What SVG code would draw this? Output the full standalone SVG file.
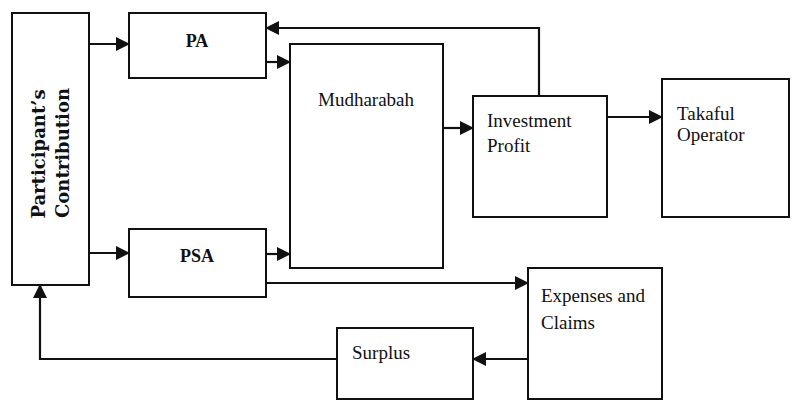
<svg xmlns="http://www.w3.org/2000/svg" width="792" height="409" viewBox="0 0 792 409">
<style>
.box{fill:#fff;stroke:#111;stroke-width:2}
.ln{fill:none;stroke:#111;stroke-width:2.2}
.t{font-family:"Liberation Serif","Times New Roman",serif;font-size:19px;fill:#111}
.b{font-weight:bold;font-size:18px}
.p{font-family:"DejaVu Serif",serif;font-weight:bold;font-size:18px;fill:#111}
</style>
<defs>
<marker id="ah" markerUnits="userSpaceOnUse" markerWidth="14" markerHeight="14" refX="13" refY="7" orient="auto">
<path d="M0,0 L14,7 L0,14 z" fill="#111"/>
</marker>
</defs>
<rect width="792" height="409" fill="#fff"/>
<g id="participant">
<rect class="box" x="12" y="13" width="77" height="272"/>
<text class="p" transform="translate(45,154) rotate(-90)" text-anchor="middle">Participant’s</text>
<text class="p" transform="translate(69,153) rotate(-90)" text-anchor="middle">Contribution</text>
</g>
<g id="pa">
<rect class="box" x="129" y="13" width="137" height="65"/>
<text class="t b" x="197" y="47" text-anchor="middle">PA</text>
</g>
<g id="psa">
<rect class="box" x="129" y="229" width="137" height="68"/>
<text class="t b" x="197" y="262" text-anchor="middle">PSA</text>
</g>
<g id="mudharabah">
<rect class="box" x="290" y="44" width="153" height="224"/>
<text class="t" x="366" y="106" text-anchor="middle">Mudharabah</text>
</g>
<g id="investment">
<rect class="box" x="473" y="96" width="134" height="121"/>
<text class="t" x="487" y="127">Investment</text>
<text class="t" x="487" y="152">Profit</text>
</g>
<g id="takaful">
<rect class="box" x="662" y="79" width="127" height="138"/>
<text class="t" x="677" y="120">Takaful</text>
<text class="t" x="677" y="141">Operator</text>
</g>
<g id="expenses">
<rect class="box" x="528" y="268" width="134" height="131"/>
<text class="t" x="541" y="302">Expenses and</text>
<text class="t" x="541" y="329">Claims</text>
</g>
<g id="surplus">
<rect class="box" x="337" y="328" width="136" height="71"/>
<text class="t" x="352" y="359">Surplus</text>
</g>
<g id="connectors">
<path class="ln" d="M89,44 H129" marker-end="url(#ah)"/>
<path class="ln" d="M89,253 H129" marker-end="url(#ah)"/>
<path class="ln" d="M266,62 H290" marker-end="url(#ah)"/>
<path class="ln" d="M266,254 H290" marker-end="url(#ah)"/>
<path class="ln" d="M443,128 H473" marker-end="url(#ah)"/>
<path class="ln" d="M539,96 V28 H266" marker-end="url(#ah)"/>
<path class="ln" d="M607,117 H662" marker-end="url(#ah)"/>
<path class="ln" d="M266,283 H528" marker-end="url(#ah)"/>
<path class="ln" d="M528,359 H473" marker-end="url(#ah)"/>
<path class="ln" d="M337,359 H40 V285" marker-end="url(#ah)"/>
</g>
</svg>
